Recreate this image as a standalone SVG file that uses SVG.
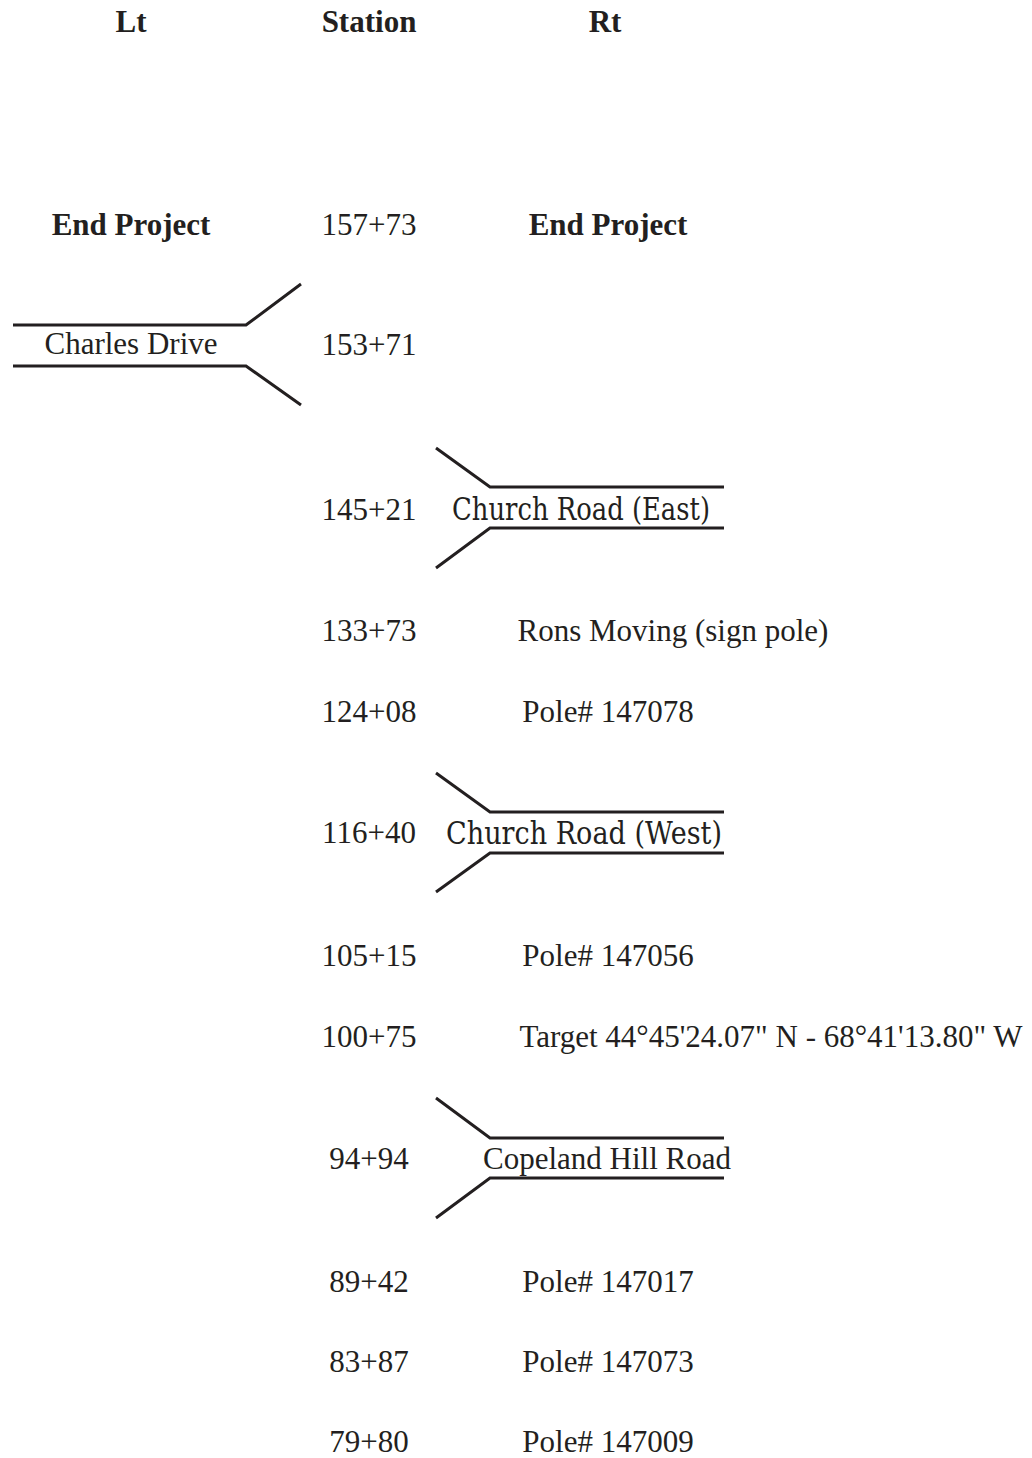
<svg xmlns="http://www.w3.org/2000/svg" width="1032" height="1458" viewBox="0 0 1032 1458">
<style>
text{font-family:"Liberation Serif","Times New Roman",serif;font-size:31px;fill:#231f20;text-anchor:middle}
.b{font-weight:bold}
.c{font-family:"DejaVu Serif","Liberation Serif",serif;font-size:31px}
.r{fill:none;stroke:#231f20;stroke-width:3}
</style>
<rect width="1032" height="1458" fill="#fff"/>
<g id="header">
<text class="b" x="131" y="32">Lt</text>
<text class="b" x="369" y="32">Station</text>
<text class="b" x="605" y="32">Rt</text>
</g>
<g id="stations">
<text x="369" y="235">157+73</text>
<text x="369" y="355">153+71</text>
<text x="369" y="520">145+21</text>
<text x="369" y="641">133+73</text>
<text x="369" y="722">124+08</text>
<text x="369" y="843">116+40</text>
<text x="369" y="966">105+15</text>
<text x="369" y="1047">100+75</text>
<text x="369" y="1169">94+94</text>
<text x="369" y="1292">89+42</text>
<text x="369" y="1372">83+87</text>
<text x="369" y="1452">79+80</text>
</g>
<g id="end-left"><text class="b" x="131" y="235">End Project</text></g>
<g id="end-right"><text class="b" x="608" y="235">End Project</text></g>
<g id="charles-drive">
<path class="r" d="M13 325H246L301 284M13 366H246L301 405"/>
<text x="131" y="354">Charles Drive</text>
</g>
<g id="church-east">
<path class="r" d="M436 448L490 487H724M436 568L490 528H724"/>
<text class="c" x="581" y="520" textLength="258" lengthAdjust="spacingAndGlyphs">Church Road (East)</text>
</g>
<g id="rons"><text x="673" y="641">Rons Moving (sign pole)</text></g>
<g id="pole-147078"><text x="608" y="722">Pole# 147078</text></g>
<g id="church-west">
<path class="r" d="M436 773L490 812H724M436 892L490 853H724"/>
<text class="c" x="584" y="844" textLength="276" lengthAdjust="spacingAndGlyphs">Church Road (West)</text>
</g>
<g id="pole-147056"><text x="608" y="966">Pole# 147056</text></g>
<g id="target"><text x="771" y="1047">Target 44°45'24.07" N - 68°41'13.80" W</text></g>
<g id="copeland">
<path class="r" d="M436 1098L490 1138H724M436 1218L490 1178H724"/>
<text x="607" y="1169">Copeland Hill Road</text>
</g>
<g id="pole-147017"><text x="608" y="1292">Pole# 147017</text></g>
<g id="pole-147073"><text x="608" y="1372">Pole# 147073</text></g>
<g id="pole-147009"><text x="608" y="1452">Pole# 147009</text></g>
<g id="connectors"></g>
</svg>
